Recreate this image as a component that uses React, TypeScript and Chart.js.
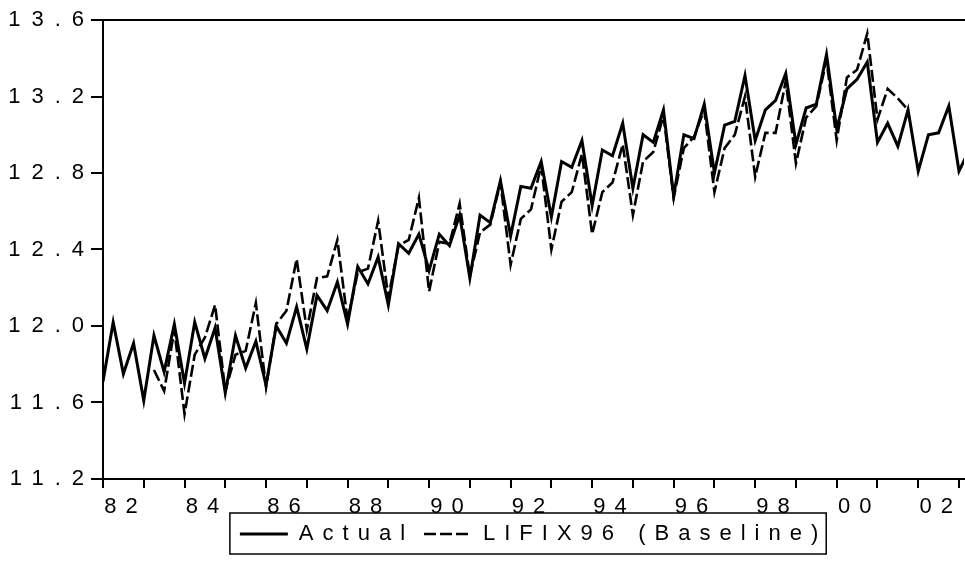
import React, { useEffect, useRef } from 'react';
import { Chart, registerables } from 'chart.js';

Chart.register(...registerables);

// Quarterly observations, 1982Q1 onward
const yearLabels = ['82', '84', '86', '88', '90', '92', '94', '96', '98', '00', '02'];
const yTickValues = [11.2, 11.6, 12.0, 12.4, 12.8, 13.2, 13.6];

const actual = [
  11.71, 12.02, 11.75, 11.91, 11.61, 11.95, 11.76, 12.01,
  11.70, 12.02, 11.83, 11.99, 11.65, 11.95, 11.78, 11.92,
  11.69, 12.00, 11.91, 12.10, 11.88, 12.16, 12.08, 12.23,
  12.01, 12.31, 12.22, 12.36, 12.11, 12.43, 12.38, 12.48,
  12.29, 12.48, 12.42, 12.58, 12.25, 12.58, 12.54, 12.76,
  12.47, 12.73, 12.72, 12.86, 12.57, 12.86, 12.83, 12.97,
  12.63, 12.92, 12.89, 13.06, 12.72, 13.00, 12.96, 13.13,
  12.68, 13.00, 12.98, 13.16, 12.80, 13.05, 13.07, 13.31,
  12.97, 13.13, 13.18, 13.32, 12.95, 13.14, 13.16, 13.42,
  13.03, 13.24, 13.29, 13.38, 12.96, 13.06, 12.94, 13.13,
  12.81, 13.00, 13.01, 13.15, 12.81, 12.92,
];

const baseline: (number | null)[] = [
  null, null, null, null, null, 11.77, 11.66, 11.98,
  11.54, 11.85, 11.94, 12.11, 11.66, 11.85, 11.87, 12.12,
  11.68, 12.01, 12.08, 12.35, 11.98, 12.25, 12.26, 12.45,
  12.03, 12.28, 12.30, 12.55, 12.15, 12.42, 12.45, 12.67,
  12.18, 12.44, 12.43, 12.64, 12.26, 12.49, 12.53, 12.75,
  12.32, 12.56, 12.61, 12.84, 12.40, 12.65, 12.70, 12.90,
  12.48, 12.70, 12.75, 12.95, 12.58, 12.86, 12.91, 13.10,
  12.67, 12.93, 12.99, 13.13, 12.70, 12.93, 13.00, 13.20,
  12.78, 13.01, 13.01, 13.28, 12.85, 13.09, 13.15, 13.39,
  12.97, 13.30, 13.34, 13.53, 13.08, 13.24, 13.19, 13.13,
];

const FONT = "'Liberation Sans', Arial, Helvetica, sans-serif";
const LETTER_SPACING = '9px';
const Y_LETTER_SPACING = '11px';
const DASH = [12, 4];

const spacingPlugin = {
  id: 'letterSpacing',
  beforeLayout(chart: any) {
    chart.ctx.letterSpacing = LETTER_SPACING;
    const ys = chart.scales.y;
    if (ys && !ys.__spaced) {
      const orig = ys.drawLabels.bind(ys);
      ys.drawLabels = (area: any) => {
        const c = chart.ctx;
        const prev = c.letterSpacing;
        c.letterSpacing = Y_LETTER_SPACING;
        orig(area);
        c.letterSpacing = prev;
      };
      ys.__spaced = true;
    }
  },
  beforeDraw(chart: any) {
    chart.ctx.letterSpacing = LETTER_SPACING;
  },
};

const legendFrame = {
  id: 'legendFrame',
  afterDraw(chart: any) {
    const lg = chart.legend;
    if (!lg || !lg.legendHitBoxes || !lg.legendHitBoxes.length) return;
    const boxes = lg.legendHitBoxes;
    let l = Infinity, r = -Infinity, t = Infinity, b = -Infinity;
    for (const h of boxes) {
      l = Math.min(l, h.left);
      r = Math.max(r, h.left + h.width);
      t = Math.min(t, h.top);
      b = Math.max(b, h.top + h.height);
    }
    const ctx = chart.ctx;
    ctx.save();
    ctx.setLineDash([]);
    ctx.strokeStyle = '#000';
    ctx.lineWidth = 1.5;
    ctx.strokeRect(l - 10, t - 10, r - l + 9, b - t + 19);
    ctx.restore();
  },
};

const yearTickPositions = Array.from({ length: 22 }, (_, k) => k * 4);
const labelTickPositions = yearLabels.map((_, j) => j * 8 + 2.2);

export default function App() {
  const ref = useRef<HTMLCanvasElement>(null);

  useEffect(() => {
    document.body.style.margin = '0';
    const canvas = ref.current!;
    const allTicks = [...yearTickPositions, ...labelTickPositions].sort((a, b) => a - b);

    const chart = new Chart(canvas, {
      type: 'line',
      data: {
        datasets: [
          {
            label: 'Actual',
            data: actual.map((v, i) => ({ x: i, y: v })),
            borderColor: '#000',
            borderWidth: 3,
            pointRadius: 0,
            tension: 0,
            fill: false,
            pointStyle: 'line',
          },
          {
            label: 'LIFIX96 (Baseline)',
            data: baseline.map((v, i) => ({ x: i, y: v })),
            borderColor: '#000',
            borderWidth: 2.6,
            borderDash: DASH,
            pointRadius: 0,
            tension: 0,
            fill: false,
            spanGaps: false,
            pointStyle: 'line',
          },
        ],
      },
      options: {
        responsive: false,
        animation: false,
        devicePixelRatio: 1,
        layout: { padding: { left: 8, right: 0, top: 20, bottom: 31 } },
        font: { family: FONT },
        scales: {
          x: {
            type: 'linear',
            position: 'bottom',
            min: 0,
            max: 84.5,
            afterBuildTicks: (scale: any) => {
              scale.ticks = allTicks.map((v) => ({ value: v }));
            },
            afterFit: (scale: any) => {
              scale.height = 34;
            },
            ticks: {
              autoSkip: false,
              maxRotation: 0,
              minRotation: 0,
              padding: 6,
              color: '#000',
              font: { family: FONT, size: 22 },
              callback: (value: any) => {
                const j = Math.round(((Number(value) - 2.2) / 8) * 1000) / 1000;
                return Number.isInteger(j) && j >= 0 && j < yearLabels.length ? yearLabels[j] : '';
              },
            },
            grid: {
              drawOnChartArea: false,
              drawTicks: true,
              tickLength: 9,
              lineWidth: 2,
              color: (ctx: any) =>
                ctx.tick && Number.isInteger(ctx.tick.value / 4) ? '#000' : 'rgba(0,0,0,0)',
            },
            border: { display: true, color: '#000', width: 2 },
          },
          xTop: {
            type: 'linear',
            position: 'top',
            min: 0,
            max: 84.5,
            ticks: { display: false },
            grid: { display: false, drawTicks: false },
            border: { display: true, color: '#000', width: 2 },
            afterFit: (scale: any) => {
              scale.height = 0;
            },
          },
          y: {
            type: 'linear',
            min: 11.2,
            max: 13.6,
            afterBuildTicks: (scale: any) => {
              scale.ticks = yTickValues.map((v) => ({ value: v }));
            },
            afterFit: (scale: any) => {
              scale.width = 95;
            },
            ticks: {
              padding: -4,
              color: '#000',
              font: { family: FONT, size: 22 },
              callback: (value: any) => Number(value).toFixed(1),
            },
            grid: {
              drawOnChartArea: false,
              drawTicks: true,
              tickLength: 12,
              lineWidth: 2,
              color: '#000',
            },
            border: { display: true, color: '#000', width: 2 },
          },
        },
        plugins: {
          legend: {
            display: true,
            position: 'bottom',
            fullSize: false,
            labels: {
              color: '#000',
              font: { family: FONT, size: 22 },
              usePointStyle: true,
              pointStyle: 'line',
              pointStyleWidth: 48,
              padding: 10,
              generateLabels: (ch: any) => {
                const items = Chart.defaults.plugins.legend.labels.generateLabels(ch);
                return items.map((it: any) => {
                  const ds = ch.data.datasets[it.datasetIndex];
                  return {
                    ...it,
                    lineDash: ds.borderDash || [],
                    lineWidth: ds.borderWidth,
                    strokeStyle: '#000',
                  };
                });
              },
            },
          },
          tooltip: { enabled: false },
          title: { display: false },
        },
      } as any,
      plugins: [spacingPlugin, legendFrame],
    });

    return () => chart.destroy();
  }, []);

  return (
    <div style={{ width: 965, height: 586, background: '#fff' }}>
      <canvas ref={ref} width={965} height={586} style={{ display: 'block' }} />
    </div>
  );
}
